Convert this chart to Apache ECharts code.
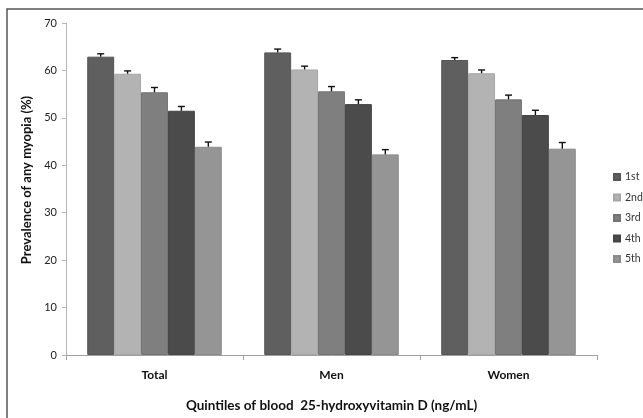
<!DOCTYPE html>
<html>
<head>
<meta charset="utf-8">
<script src="https://cdn.jsdelivr.net/npm/echarts@6/dist/echarts.min.js"></script>
<style>
html,body{margin:0;padding:0;background:#fff;}
#chart{width:643px;height:418px;}
</style>
</head>
<body>
<div id="chart"></div>
<script>
const categories = ['Total', 'Men', 'Women'];
const seriesNames = ['1st', '2nd', '3rd', '4th', '5th'];
const yTicks = [0, 10, 20, 30, 40, 50, 60, 70];

const q1Values = [62.9, 63.8, 62.2];
const q2Values = [59.3, 60.2, 59.4];
const q3Values = [55.4, 55.6, 53.9];
const q4Values = [51.5, 52.9, 50.6];
const q5Values = [43.9, 42.3, 43.5];

const q1Errors = [0.6, 0.7, 0.5];
const q2Errors = [0.6, 0.7, 0.7];
const q3Errors = [1.0, 1.0, 0.9];
const q4Errors = [0.9, 0.9, 1.0];
const q5Errors = [1.0, 1.0, 1.3];

const colors = ['#5f5f5f', '#b3b3b3', '#7f7f7f', '#4b4b4b', '#959595'];
const borders = ['#555555', '#a6a6a6', '#737373', '#444444', '#898989'];

const allValues = [q1Values, q2Values, q3Values, q4Values, q5Values];
const allErrors = [q1Errors, q2Errors, q3Errors, q4Errors, q5Errors];
const CAT_GAP = 0.24;
const FONT = 'Lato, "Open Sans", sans-serif';

const series = [];
allValues.forEach((vals, i) => {
  series.push({
    name: seriesNames[i],
    type: 'bar',
    data: vals,
    barGap: '0%',
    barCategoryGap: (CAT_GAP * 100) + '%',
    itemStyle: { color: colors[i], borderColor: borders[i], borderWidth: 1 },
    z: 2
  });
});
allValues.forEach((vals, i) => {
  series.push({
    type: 'custom',
    name: seriesNames[i] + ' error',
    z: 5,
    silent: true,
    data: vals.map((v, k) => [k, v, allErrors[i][k]]),
    renderItem: function (params, api) {
      const k = api.value(0);
      const v = api.value(1);
      const e = api.value(2);
      const base = api.coord([k, v]);
      const top = api.coord([k, v + e]);
      const catW = api.size([1, 0])[0];
      const bw = catW * (1 - CAT_GAP) / 5;
      const x = base[0] + (i - 2) * bw;
      const style = { stroke: '#111', lineWidth: 1.4 };
      return {
        type: 'group',
        children: [
          { type: 'line', shape: { x1: x, y1: base[1], x2: x, y2: top[1] }, style: style },
          { type: 'line', shape: { x1: x - 3.5, y1: top[1], x2: x + 3.5, y2: top[1] }, style: style }
        ]
      };
    }
  });
});

const chart = echarts.init(document.getElementById('chart'));
chart.setOption({
  animation: false,
  backgroundColor: '#fff',
  textStyle: { fontFamily: FONT },
  graphic: [{
    type: 'rect',
    shape: { x: 7, y: 9, width: 700, height: 500 },
    style: { fill: 'none', stroke: '#555', lineWidth: 1.5 },
    silent: true,
    z: -10
  }],
  grid: { left: 66, right: 46, top: 23, bottom: 59 },
  legend: {
    orient: 'vertical',
    left: 613,
    top: 171,
    padding: 0,
    data: seriesNames,
    icon: 'rect',
    itemWidth: 6,
    itemHeight: 6,
    itemGap: 8.5,
    textStyle: { fontSize: 10.5, color: '#333', fontFamily: FONT, lineHeight: 12 }
  },
  xAxis: {
    type: 'category',
    data: categories,
    name: 'Quintiles of blood  25-hydroxyvitamin D (ng/mL)',
    nameLocation: 'middle',
    nameGap: 44,
    nameTextStyle: { fontSize: 13.5, fontWeight: 'bold', color: '#111', fontFamily: FONT },
    axisLine: { lineStyle: { color: '#a0a0a0', width: 1 } },
    axisTick: { show: true, length: 5, lineStyle: { color: '#a0a0a0' } },
    axisLabel: { fontSize: 12, fontWeight: 'bold', color: '#111', margin: 14 },
    splitLine: { show: false }
  },
  yAxis: {
    type: 'value',
    min: yTicks[0],
    max: yTicks[yTicks.length - 1],
    interval: 10,
    name: 'Prevalence of any myopia (%)',
    nameLocation: 'middle',
    nameGap: 33,
    nameTextStyle: { fontSize: 13, fontWeight: 'bold', color: '#111', fontFamily: FONT, padding: [0, 0, 0, 18] },
    axisLine: { show: true, lineStyle: { color: '#b5b5b5', width: 1 } },
    axisTick: { show: true, length: 4, lineStyle: { color: '#b5b5b5' } },
    axisLabel: { fontSize: 11, color: '#222', margin: 9 },
    splitLine: { show: false }
  },
  series: series
});
</script>
</body>
</html>
